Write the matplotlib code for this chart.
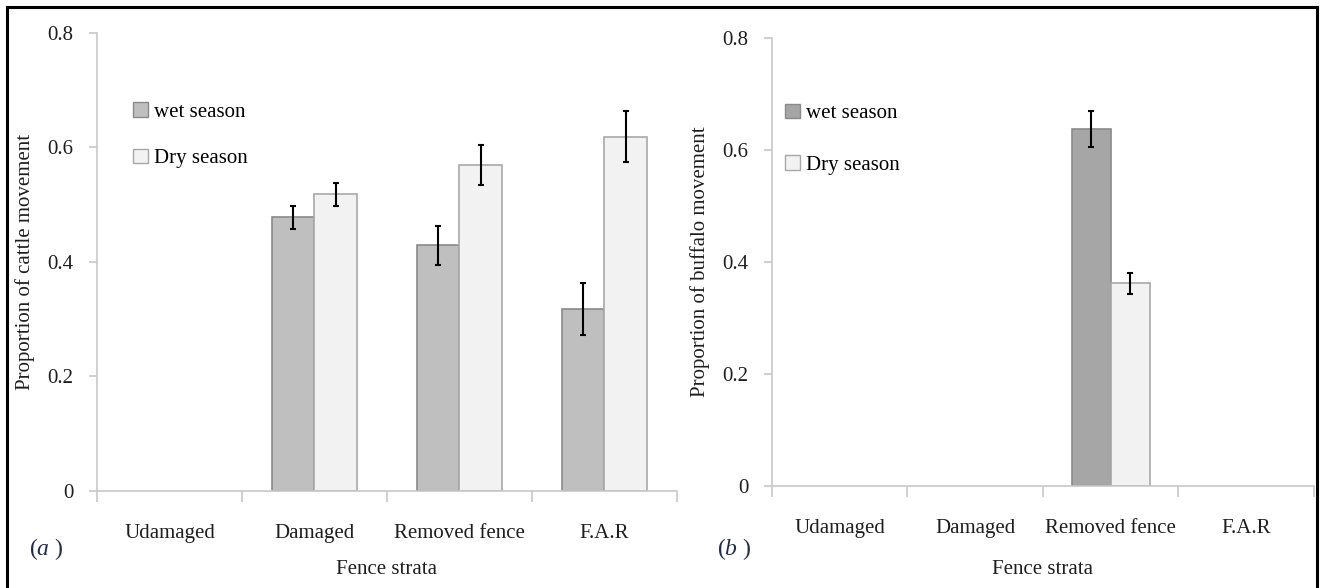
import numpy as np
import matplotlib
matplotlib.use("Agg")
import matplotlib.pyplot as plt
from matplotlib.patches import Patch
from matplotlib.lines import Line2D

plt.rcParams['font.family'] = ['Liberation Serif', 'DejaVu Serif']
plt.rcParams['mathtext.fontset'] = 'custom'
plt.rcParams['mathtext.it'] = 'Liberation Serif:italic'
plt.rcParams['mathtext.rm'] = 'Liberation Serif'

# Данные
categories = ["Udamaged", "Damaged", "Removed fence", "F.A.R"]
series = ["wet season", "Dry season"]

cattle_wet = [0.0, 0.478, 0.429, 0.318]
cattle_wet_err = [0.0, 0.020, 0.034, 0.045]
cattle_dry = [0.0, 0.518, 0.569, 0.619]
cattle_dry_err = [0.0, 0.020, 0.035, 0.045]

buffalo_wet = [0.0, 0.0, 0.637, 0.0]
buffalo_wet_err = [0.0, 0.0, 0.032, 0.0]
buffalo_dry = [0.0, 0.0, 0.362, 0.0]
buffalo_dry_err = [0.0, 0.0, 0.019, 0.0]

yticks = [0, 0.2, 0.4, 0.6, 0.8]
ytick_labels = ["0", "0.2", "0.4", "0.6", "0.8"]

AXIS_C = "#c8c8c8"
TXT_C = "#1e1e1e"
FS = 15


def panel(ax, wet, wet_err, dry, dry_err, wet_color, ylabel, bw,
          leg_anchor, leg_space, xlab_pad):
    x = np.arange(len(categories))
    for vals, errs, off, fc, ec in ((wet, wet_err, -bw / 2, wet_color, "#8a8a8a"),
                                    (dry, dry_err, bw / 2, "#f2f2f2", "#a8a8a8")):
        v = np.array(vals)
        e = np.array(errs)
        m = v > 0
        ax.bar(x[m] + off, v[m], width=bw, color=fc, edgecolor=ec, linewidth=1.2, zorder=2)
        ax.errorbar(x[m] + off, v[m], yerr=e[m], fmt="none", ecolor="black",
                    elinewidth=1.5, capsize=2.5, capthick=1.5, zorder=3)

    ax.set_xlim(-0.5, len(categories) - 0.5)
    ax.set_ylim(0, 0.8)
    ax.set_yticks(yticks)
    ax.set_yticklabels(ytick_labels)
    ax.set_xticks(x)
    ax.set_xticklabels(categories)
    ax.set_xticks(np.arange(-0.5, len(categories)), minor=True)
    ax.tick_params(axis="x", which="major", length=0, pad=23.5, labelsize=FS, colors=TXT_C)
    ax.tick_params(axis="x", which="minor", length=8, width=1.2, color=AXIS_C, direction="out")
    ax.tick_params(axis="y", length=6, width=1.2, color=AXIS_C, pad=11, labelsize=FS,
                   labelcolor=TXT_C)
    for s in ("top", "right"):
        ax.spines[s].set_visible(False)
    for s in ("left", "bottom"):
        ax.spines[s].set_color(AXIS_C)
        ax.spines[s].set_linewidth(1.2)
    ax.set_xlabel("Fence strata", fontsize=FS, color=TXT_C, labelpad=xlab_pad)
    ax.set_ylabel(ylabel, fontsize=FS, color=TXT_C, labelpad=9)

    handles = [Patch(facecolor=wet_color, edgecolor="#8a8a8a"),
               Patch(facecolor="#f2f2f2", edgecolor="#a8a8a8")]
    ax.legend(handles, series, loc="upper left", bbox_to_anchor=leg_anchor,
              frameon=False, fontsize=FS, handlelength=0.7, handleheight=0.7,
              handletextpad=0.3, labelspacing=leg_space, borderaxespad=0)


fig = plt.figure(figsize=(13.23, 5.88), dpi=100)
ax1 = fig.add_axes([0.0733, 0.165, 0.4384, 0.7789])
ax2 = fig.add_axes([0.5835, 0.1735, 0.4097, 0.7619])

panel(ax1, cattle_wet, cattle_wet_err, cattle_dry, cattle_dry_err, "#bfbfbf",
      "Proportion of cattle movement", 0.29, (0.048, 0.867), 1.3, 12.5)
panel(ax2, buffalo_wet, buffalo_wet_err, buffalo_dry, buffalo_dry_err, "#a6a6a6",
      "Proportion of buffalo movement", 0.287, (0.0095, 0.872), 1.53, 16)

fig.text(0.022, 0.056, r"($\mathit{a}$ )", fontsize=FS + 2, color="#1f2a44")
fig.text(0.542, 0.056, r"($\mathit{b}$ )", fontsize=FS + 2, color="#1f2a44")

# Чёрная рамка вокруг рисунка (низ обрезан)
W, H = 1323, 588
for xs, ys in (([7 / W, 7 / W], [-0.1, 1 - 7 / H]),
               ([7 / W, 1317 / W], [1 - 7 / H, 1 - 7 / H]),
               ([1317 / W, 1317 / W], [-0.1, 1 - 7 / H])):
    fig.add_artist(Line2D(xs, ys, color="black", linewidth=2.2, transform=fig.transFigure))

fig.savefig("out.png", dpi=100)
